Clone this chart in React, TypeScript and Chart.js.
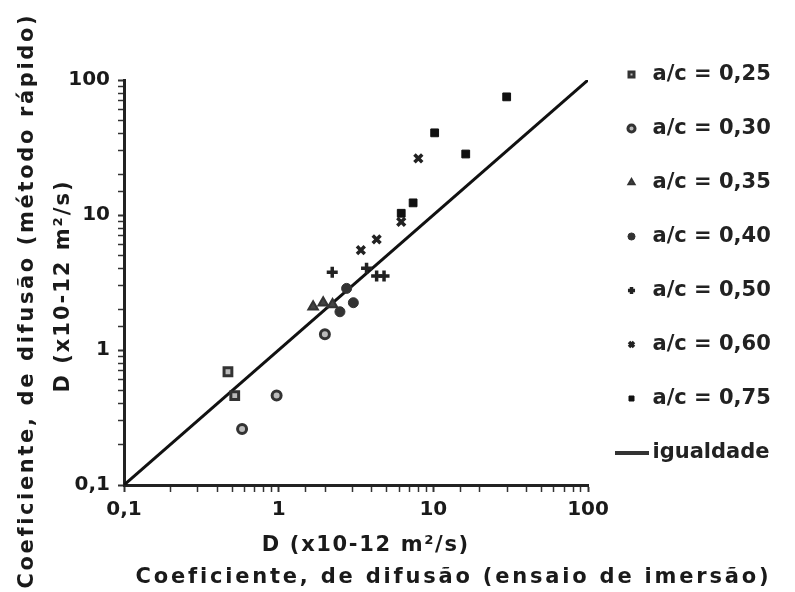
import { useEffect, useRef } from "react";
import { Chart, registerables } from "chart.js";

Chart.register(...registerables);

// ---- data ----
const seriesLabels = [
  "a/c = 0,25",
  "a/c = 0,30",
  "a/c = 0,35",
  "a/c = 0,40",
  "a/c = 0,50",
  "a/c = 0,60",
  "a/c = 0,75",
];
const lineLabel = "igualdade";

// [D immersion, D rapid] in x10^-12 m²/s
const ac025 = [[0.47, 0.69], [0.52, 0.46]];
const ac030 = [[0.58, 0.26], [0.97, 0.46], [1.99, 1.31]];
const ac035 = [[1.67, 2.09], [1.94, 2.24], [2.23, 2.17]];
const ac040 = [[2.49, 1.92], [3.04, 2.24], [2.75, 2.86]];
const ac050 = [[2.22, 3.76], [3.7, 4.03], [4.3, 3.53], [4.8, 3.53]];
const ac060 = [[3.4, 5.5], [4.3, 6.6], [6.2, 8.9], [8.0, 26.3]];
const ac075 = [[6.2, 10.3], [7.4, 12.3], [10.2, 40.6], [16.2, 28.3], [29.8, 75]];

const equalityLine = [0.1, 100];
const majorTicks = [0.1, 1, 10, 100];

const xTitle = ["D (x10-12 m²/s)", "Coeficiente, de difusão (ensaio de imersão)"];
const yTitle = ["Coeficiente, de difusão (método rápido)", "D (x10-12 m²/s)"];

// ---- helpers ----
const toPts = (arr: number[][]) => arr.map(([x, y]) => ({ x, y }));
const tickLabel = (v: number) => {
  const m = majorTicks.find((t) => Math.abs(t - v) / t < 1e-6);
  return m === undefined ? "" : String(m).replace(".", ",");
};
const isMajor = (v: number) => majorTicks.some((t) => Math.abs(t - v) / t < 1e-6);

const FONT = "'DejaVu Sans', sans-serif";

const titlePlugin = {
  id: "axisTitlesCustom",
  afterDraw(chart: any, _args: any, opts: any) {
    const ctx = chart.ctx as CanvasRenderingContext2D;
    for (const t of opts.items || []) {
      ctx.save();
      ctx.font = opts.font;
      ctx.fillStyle = opts.color;
      (ctx as any).letterSpacing = "0px";
      const w0 = ctx.measureText(t.text).width;
      const ls = (t.width - w0) / t.text.length;
      (ctx as any).letterSpacing = ls + "px";
      ctx.translate(t.x, t.y);
      if (t.rotate) ctx.rotate(-Math.PI / 2);
      ctx.textAlign = "center";
      ctx.textBaseline = "middle";
      ctx.fillText(t.text, ls / 2, 0);
      ctx.restore();
    }
  },
};

export default function App() {
  const ref = useRef<HTMLCanvasElement | null>(null);

  useEffect(() => {
    document.body.style.margin = "0";
    const canvas = ref.current;
    if (!canvas) return;

    const lineImg = document.createElement("canvas");
    lineImg.width = 34;
    lineImg.height = 4;
    const lctx = lineImg.getContext("2d")!;
    lctx.fillStyle = "#333";
    lctx.fillRect(0, 0, 34, 4);

    const seriesData = [ac025, ac030, ac035, ac040, ac050, ac060, ac075];
    const styles = [
      { pointStyle: "rect", backgroundColor: "#bbbbbb", borderColor: "#333", borderWidth: 3, pointRadius: 5.5 },
      { pointStyle: "circle", backgroundColor: "#bbbbbb", borderColor: "#333", borderWidth: 3, pointRadius: 4.5 },
      { pointStyle: "triangle", backgroundColor: "#444", borderColor: "#333", borderWidth: 2, pointRadius: 5.5 },
      { pointStyle: "circle", backgroundColor: "#333", borderColor: "#333", borderWidth: 1, pointRadius: 5 },
      { pointStyle: "cross", backgroundColor: "#222", borderColor: "#222", borderWidth: 3.5, pointRadius: 5.5 },
      { pointStyle: "crossRot", backgroundColor: "#222", borderColor: "#222", borderWidth: 3.5, pointRadius: 5.5 },
      { pointStyle: "rect", backgroundColor: "#111", borderColor: "#111", borderWidth: 1, pointRadius: 5.5 },
    ];

    const datasets: any[] = seriesData.map((d, i) => ({
      type: "scatter",
      label: seriesLabels[i],
      data: toPts(d),
      ...styles[i],
      pointHoverRadius: styles[i].pointRadius,
      order: 1,
    }));
    datasets.push({
      type: "line",
      label: lineLabel,
      data: equalityLine.map((v) => ({ x: v, y: v })),
      borderColor: "#111",
      backgroundColor: "#111",
      borderWidth: 3,
      pointRadius: 0,
      fill: false,
      order: 2,
    });
    const lineIdx = datasets.length - 1;

    const chart = new Chart(canvas, {
      type: "scatter",
      data: { datasets },
      plugins: [titlePlugin as any],
      options: {
        animation: false,
        responsive: true,
        maintainAspectRatio: false,
        layout: { padding: { top: 31, left: 0, right: 17, bottom: 0 } },
        scales: {
          x: {
            type: "logarithmic",
            min: 0.1,
            max: 100,
            afterFit: (s: any) => {
              s.height = 107;
              s.paddingLeft = 0;
              s.paddingRight = 0;
            },
            border: { display: true, color: "#222", width: 3 },
            grid: {
              drawOnChartArea: false,
              drawTicks: true,
              tickLength: 7,
              tickColor: "#333",
              tickWidth: (c: any) => (isMajor(c.tick.value) ? 2 : 1.5),
            },
            ticks: {
              autoSkip: false,
              maxRotation: 0,
              padding: 6,
              color: "#1a1a1a",
              font: { family: FONT, size: 20, weight: "bold" },
              callback: (v: any) => tickLabel(Number(v)),
            },
          },
          y: {
            type: "logarithmic",
            min: 0.1,
            max: 100,
            afterFit: (s: any) => {
              s.width = 124;
              s.paddingTop = 80;
              s.paddingBottom = 0;
            },
            border: { display: true, color: "#222", width: 3 },
            grid: {
              drawOnChartArea: false,
              drawTicks: true,
              tickLength: 6,
              tickColor: "#333",
              tickWidth: (c: any) => (isMajor(c.tick.value) ? 2 : 1.5),
            },
            ticks: {
              autoSkip: false,
              padding: 8,
              color: "#1a1a1a",
              font: { family: FONT, size: 20, weight: "bold" },
              callback: (v: any) => tickLabel(Number(v)),
            },
          },
        },
        plugins: {
          tooltip: { enabled: false },
          title: { display: false },
          legend: {
            display: true,
            position: "right",
            align: "start",
            maxWidth: 190,
            labels: {
              usePointStyle: true,
              boxHeight: 5,
              padding: 33,
              color: "#222",
              font: { family: FONT, size: 21, weight: "bold" },
              generateLabels: (ch: any) => {
                const items = (Chart.defaults.plugins.legend.labels as any).generateLabels(ch);
                return items.map((it: any) =>
                  it.datasetIndex === lineIdx ? { ...it, pointStyle: lineImg } : it
                );
              },
            },
          },
          axisTitlesCustom: {
            font: `bold 21px ${FONT}`,
            color: "#1a1a1a",
            items: [
              { text: xTitle[0], x: 365, y: 546, width: 208, rotate: false },
              { text: xTitle[1], x: 452, y: 578, width: 635, rotate: false },
              { text: yTitle[0], x: 28, y: 302, width: 575, rotate: true },
              { text: yTitle[1], x: 64, y: 287, width: 213, rotate: true },
            ],
          },
        } as any,
      },
    });

    return () => chart.destroy();
  }, []);

  return (
    <div style={{ width: 795, height: 592, position: "relative", background: "#fff" }}>
      <canvas ref={ref} />
    </div>
  );
}
